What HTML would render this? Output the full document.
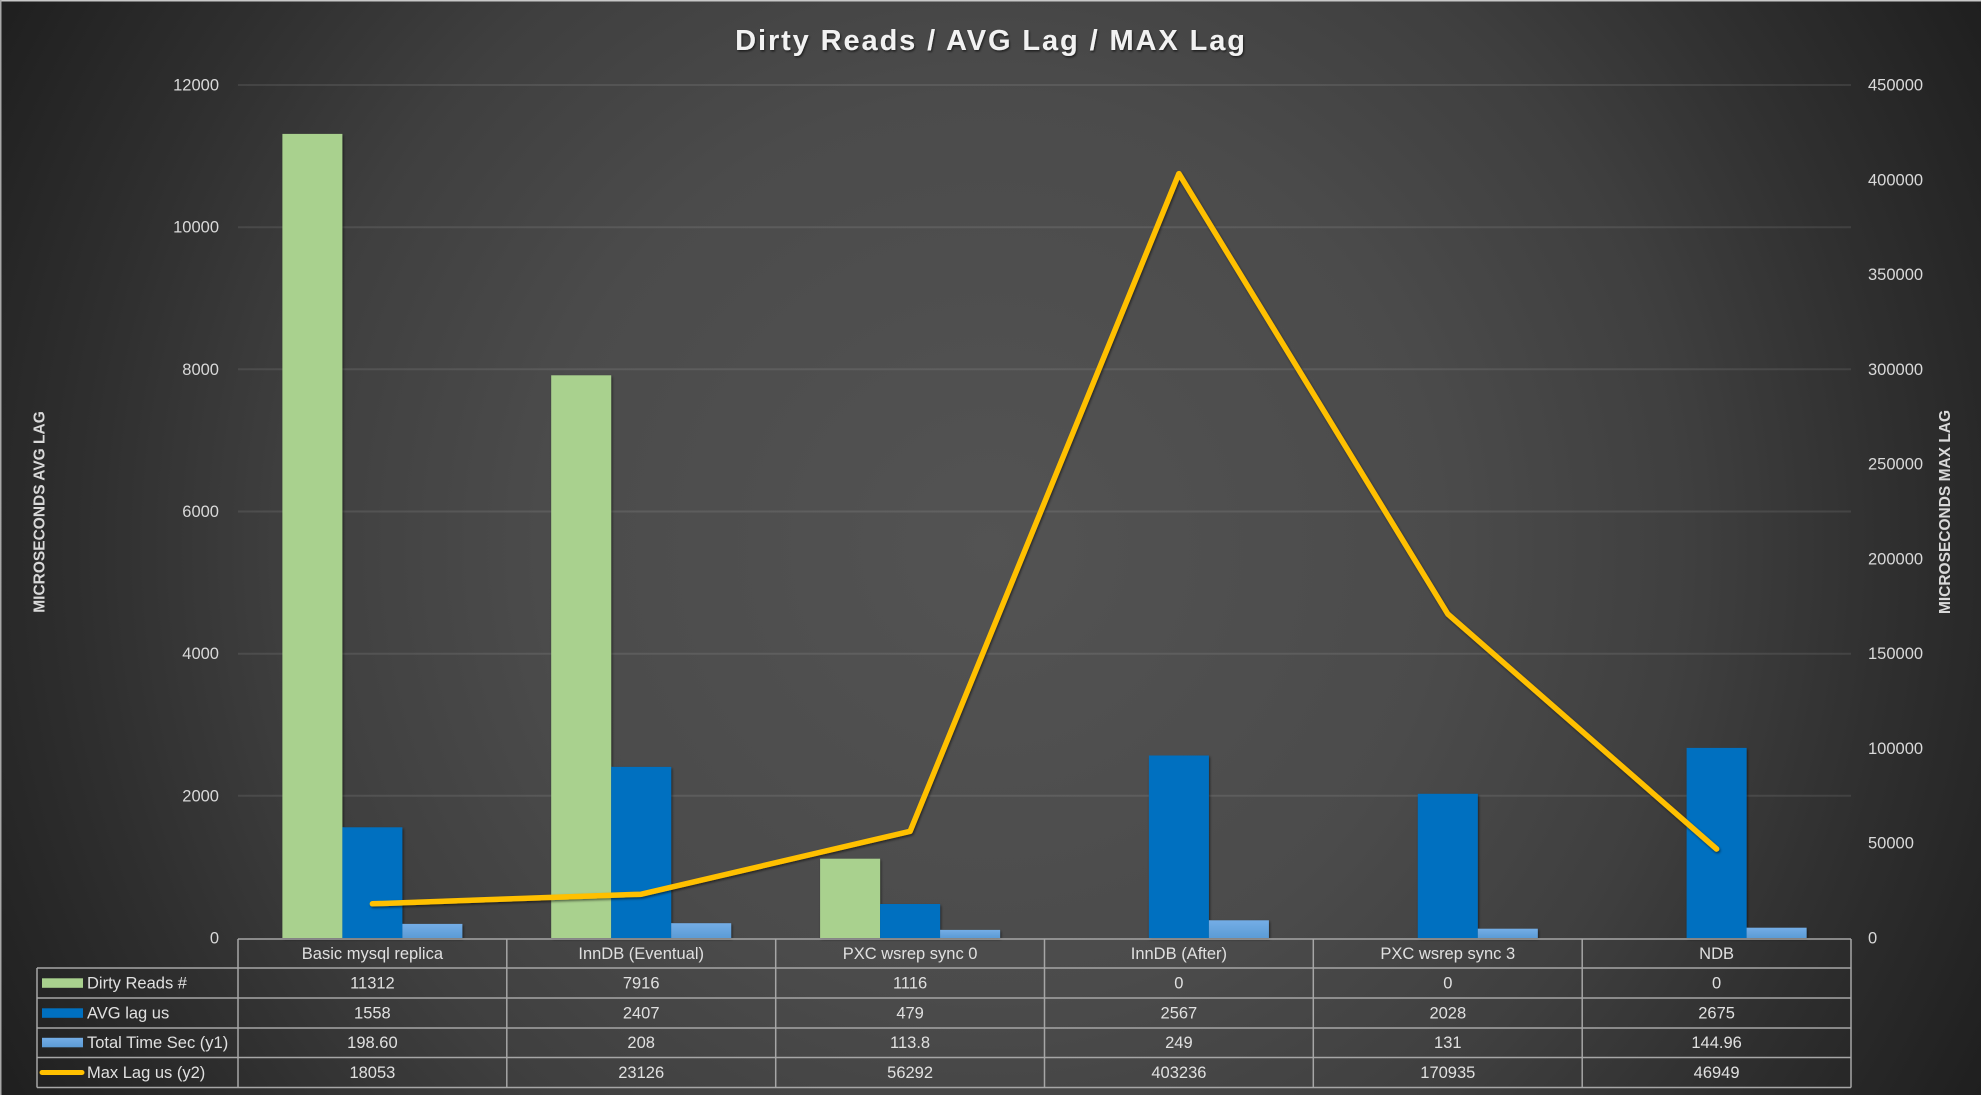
<!DOCTYPE html>
<html>
<head>
<meta charset="utf-8">
<style>
  html, body { margin: 0; padding: 0; background: #2a2a2a; }
  body { width: 1981px; height: 1095px; overflow: hidden; }
  svg { display: block; }
  text { font-family: "Liberation Sans", "DejaVu Sans", sans-serif; }
</style>
</head>
<body>
<svg width="1981" height="1095" viewBox="0 0 1981 1095" xmlns="http://www.w3.org/2000/svg">
  <defs>
    <radialGradient id="bg" cx="990" cy="547" r="1131" gradientUnits="userSpaceOnUse">
      <stop offset="0" stop-color="#535353"/>
      <stop offset="0.4" stop-color="#4b4b4b"/>
      <stop offset="0.62" stop-color="#3f3f3f"/>
      <stop offset="0.8" stop-color="#2f2f2f"/>
      <stop offset="1" stop-color="#1f1f1f"/>
    </radialGradient>
    <linearGradient id="lb" x1="0" y1="0" x2="0" y2="1">
      <stop offset="0" stop-color="#74ade6"/>
      <stop offset="1" stop-color="#5b9bd5"/>
    </linearGradient>
    <filter id="sh" x="-5%" y="-5%" width="110%" height="110%">
      <feDropShadow dx="1" dy="1.5" stdDeviation="1.2" flood-color="#000" flood-opacity="0.55"/>
    </filter>
    <filter id="tsh" x="-5%" y="-20%" width="110%" height="150%">
      <feDropShadow dx="1" dy="1.5" stdDeviation="1" flood-color="#000" flood-opacity="0.6"/>
    </filter>
  </defs>

  <!-- background -->
  <rect x="0" y="0" width="1981" height="1095" fill="url(#bg)"/>
  <!-- top/left border -->
  <line x1="0" y1="0.75" x2="1981" y2="0.75" stroke="#c8c8c8" stroke-width="1.5"/>
  <line x1="0.75" y1="0" x2="0.75" y2="1095" stroke="#a8a8a8" stroke-width="1.5"/>

  <!-- title -->
  <text x="991" y="50" text-anchor="middle" font-size="29" font-weight="bold" fill="#f2f2f2" letter-spacing="1.9" filter="url(#tsh)">Dirty Reads / AVG Lag / MAX Lag</text>

  <!-- gridlines -->
  <g stroke="#ffffff" stroke-opacity="0.09" stroke-width="2">
    <line x1="238" y1="85" x2="1851" y2="85"/>
    <line x1="238" y1="227.2" x2="1851" y2="227.2"/>
    <line x1="238" y1="369.3" x2="1851" y2="369.3"/>
    <line x1="238" y1="511.5" x2="1851" y2="511.5"/>
    <line x1="238" y1="653.7" x2="1851" y2="653.7"/>
    <line x1="238" y1="795.8" x2="1851" y2="795.8"/>
  </g>

  <!-- left axis labels -->
  <g font-size="16.5" fill="#d9d9d9" text-anchor="end">
    <text x="219" y="90.5">12000</text>
    <text x="219" y="232.7">10000</text>
    <text x="219" y="374.8">8000</text>
    <text x="219" y="517">6000</text>
    <text x="219" y="659.2">4000</text>
    <text x="219" y="801.3">2000</text>
    <text x="219" y="943.5">0</text>
  </g>

  <!-- right axis labels -->
  <g font-size="16.5" fill="#d9d9d9" text-anchor="start">
    <text x="1868" y="90.5">450000</text>
    <text x="1868" y="185.3">400000</text>
    <text x="1868" y="280.1">350000</text>
    <text x="1868" y="374.8">300000</text>
    <text x="1868" y="469.6">250000</text>
    <text x="1868" y="564.4">200000</text>
    <text x="1868" y="659.2">150000</text>
    <text x="1868" y="753.9">100000</text>
    <text x="1868" y="848.7">50000</text>
    <text x="1868" y="943.5">0</text>
  </g>

  <!-- axis titles -->
  <text transform="translate(44.5,512) rotate(-90)" text-anchor="middle" font-size="15.5" font-weight="bold" fill="#d9d9d9">MICROSECONDS AVG LAG</text>
  <text transform="translate(1950,512) rotate(-90)" text-anchor="middle" font-size="15.5" font-weight="bold" fill="#d9d9d9">MICROSECONDS MAX LAG</text>

  <!-- bars -->
  <g filter="url(#sh)">
    <!-- Dirty Reads (green) -->
    <rect x="282.4" y="133.9" width="60" height="804.1" fill="#a9d18e"/>
    <rect x="551.2" y="375.3" width="60" height="562.7" fill="#a9d18e"/>
    <rect x="820.1" y="858.7" width="60" height="79.3" fill="#a9d18e"/>
    <!-- AVG lag (blue) -->
    <rect x="342.4" y="827.3" width="60" height="110.7" fill="#0070c0"/>
    <rect x="611.2" y="766.9" width="60" height="171.1" fill="#0070c0"/>
    <rect x="880.1" y="904" width="60" height="34" fill="#0070c0"/>
    <rect x="1148.9" y="755.5" width="60" height="182.5" fill="#0070c0"/>
    <rect x="1417.8" y="793.8" width="60" height="144.2" fill="#0070c0"/>
    <rect x="1686.6" y="747.9" width="60" height="190.1" fill="#0070c0"/>
    <!-- Total time (light blue) -->
    <rect x="402.4" y="923.9" width="60" height="14.1" fill="url(#lb)"/>
    <rect x="671.2" y="923.2" width="60" height="14.8" fill="url(#lb)"/>
    <rect x="940.1" y="929.9" width="60" height="8.1" fill="url(#lb)"/>
    <rect x="1208.9" y="920.3" width="60" height="17.7" fill="url(#lb)"/>
    <rect x="1477.8" y="928.7" width="60" height="9.3" fill="url(#lb)"/>
    <rect x="1746.6" y="927.7" width="60" height="10.3" fill="url(#lb)"/>
  </g>

  <!-- Max lag line -->
  <polyline points="372.4,903.8 641.2,894.2 910.1,831.3 1178.9,173.6 1447.8,614 1716.6,849"
            fill="none" stroke="#ffc000" stroke-width="5.5" stroke-linejoin="round" stroke-linecap="round" filter="url(#sh)"/>

  <!-- data table grid -->
  <g stroke="#a6a6a6" stroke-width="1.5" fill="none">
    <line x1="238" y1="939" x2="1851" y2="939"/>
    <line x1="37" y1="968" x2="1851" y2="968"/>
    <line x1="37" y1="998" x2="1851" y2="998"/>
    <line x1="37" y1="1028" x2="1851" y2="1028"/>
    <line x1="37" y1="1057.5" x2="1851" y2="1057.5"/>
    <line x1="37" y1="1087.5" x2="1851" y2="1087.5"/>
    <line x1="37" y1="968" x2="37" y2="1087.5"/>
    <line x1="238" y1="939" x2="238" y2="1087.5"/>
    <line x1="506.8" y1="939" x2="506.8" y2="1087.5"/>
    <line x1="775.7" y1="939" x2="775.7" y2="1087.5"/>
    <line x1="1044.5" y1="939" x2="1044.5" y2="1087.5"/>
    <line x1="1313.3" y1="939" x2="1313.3" y2="1087.5"/>
    <line x1="1582.2" y1="939" x2="1582.2" y2="1087.5"/>
    <line x1="1851" y1="939" x2="1851" y2="1087.5"/>
  </g>

  <!-- legend keys -->
  <rect x="42" y="978.3" width="41" height="9.5" fill="#a9d18e"/>
  <rect x="42" y="1008.3" width="41" height="9.5" fill="#0070c0"/>
  <rect x="42" y="1037.8" width="41" height="9.5" fill="url(#lb)"/>
  <line x1="42" y1="1072.5" x2="82" y2="1072.5" stroke="#ffc000" stroke-width="5" stroke-linecap="round"/>

  <!-- legend labels -->
  <g font-size="16.5" fill="#e0e0e0">
    <text x="87" y="988.5">Dirty Reads #</text>
    <text x="87" y="1018.5">AVG lag us</text>
    <text x="87" y="1048">Total Time Sec (y1)</text>
    <text x="87" y="1078">Max Lag us (y2)</text>
  </g>

  <!-- table text -->
  <g font-size="16.5" fill="#e0e0e0" text-anchor="middle">
    <text x="372.4" y="959">Basic mysql replica</text>
    <text x="641.2" y="959">InnDB (Eventual)</text>
    <text x="910.1" y="959">PXC wsrep sync 0</text>
    <text x="1178.9" y="959">InnDB (After)</text>
    <text x="1447.8" y="959">PXC wsrep sync 3</text>
    <text x="1716.6" y="959">NDB</text>

    <text x="372.4" y="988.5">11312</text>
    <text x="641.2" y="988.5">7916</text>
    <text x="910.1" y="988.5">1116</text>
    <text x="1178.9" y="988.5">0</text>
    <text x="1447.8" y="988.5">0</text>
    <text x="1716.6" y="988.5">0</text>

    <text x="372.4" y="1018.5">1558</text>
    <text x="641.2" y="1018.5">2407</text>
    <text x="910.1" y="1018.5">479</text>
    <text x="1178.9" y="1018.5">2567</text>
    <text x="1447.8" y="1018.5">2028</text>
    <text x="1716.6" y="1018.5">2675</text>

    <text x="372.4" y="1048">198.60</text>
    <text x="641.2" y="1048">208</text>
    <text x="910.1" y="1048">113.8</text>
    <text x="1178.9" y="1048">249</text>
    <text x="1447.8" y="1048">131</text>
    <text x="1716.6" y="1048">144.96</text>

    <text x="372.4" y="1078">18053</text>
    <text x="641.2" y="1078">23126</text>
    <text x="910.1" y="1078">56292</text>
    <text x="1178.9" y="1078">403236</text>
    <text x="1447.8" y="1078">170935</text>
    <text x="1716.6" y="1078">46949</text>
  </g>
</svg>
</body>
</html>
